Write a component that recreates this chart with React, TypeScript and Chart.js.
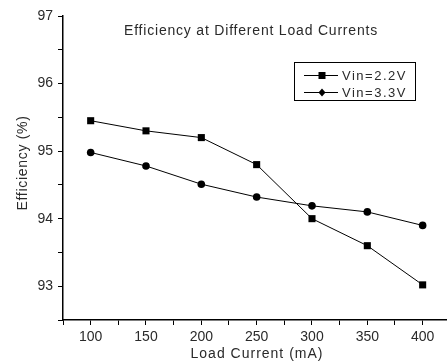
import React, { useEffect, useRef } from "react";
import { Chart, registerables } from "chart.js";

Chart.register(...registerables);

const loadCurrents = [100, 150, 200, 250, 300, 350, 400];
const effVin22 = [95.45, 95.3, 95.2, 94.8, 94.0, 93.6, 93.02];
const effVin33 = [94.98, 94.78, 94.51, 94.32, 94.19, 94.1, 93.9];
const xTickValues = [75, 100, 125, 150, 175, 200, 225, 250, 275, 300, 325, 350, 375, 400];
const yTickValues = [92.5, 93, 93.5, 94, 94.5, 95, 95.5, 96, 96.5, 97];
const seriesNames = ["Vin=2.2V", "Vin=3.3V"];
const chartTitle = "Efficiency at Different Load Currents";
const xTitle = "Load Current (mA)";
const yTitle = "Efficiency (%)";

const FONT = '"Liberation Sans", Arial, sans-serif';
const TEXT = "#2a2a2a";

const overlay = {
  id: "overlay",
  afterDraw(chart: any) {
    const ctx = chart.ctx as CanvasRenderingContext2D;
    ctx.save();
    ctx.fillStyle = TEXT;
    ctx.textBaseline = "middle";
    ctx.textAlign = "center";
    // title
    ctx.font = `14px ${FONT}`;
    (ctx as any).letterSpacing = "0.8px";
    ctx.fillText(chartTitle, 251, 31);
    // x title
    (ctx as any).letterSpacing = "1px";
    ctx.fillText(xTitle, 257, 354);
    // y title
    ctx.save();
    ctx.translate(23, 163);
    ctx.rotate(-Math.PI / 2);
    (ctx as any).letterSpacing = "0.7px";
    ctx.fillText(yTitle, 0, 0);
    ctx.restore();
    // legend
    const bx = 294.5, by = 62.5, bw = 121, bh = 38;
    ctx.strokeStyle = "#000";
    ctx.lineWidth = 1;
    ctx.strokeRect(bx, by, bw, bh);
    const rows = [75, 92];
    ctx.font = `13px ${FONT}`;
    (ctx as any).letterSpacing = "1.5px";
    ctx.textAlign = "left";
    rows.forEach((ry, i) => {
      ctx.beginPath();
      ctx.moveTo(304, ry + 0.5);
      ctx.lineTo(338, ry + 0.5);
      ctx.stroke();
      ctx.fillStyle = "#000";
      if (i === 0) {
        ctx.fillRect(318.5, ry - 3, 7, 7);
      } else {
        ctx.beginPath();
        ctx.moveTo(322, ry - 3.5);
        ctx.lineTo(325.5, ry + 0.5);
        ctx.lineTo(322, ry + 4.5);
        ctx.lineTo(318.5, ry + 0.5);
        ctx.closePath();
        ctx.fill();
      }
      ctx.fillStyle = TEXT;
      ctx.fillText(seriesNames[i], 342, ry + 1);
    });
    ctx.restore();
  },
};

export default function App() {
  const ref = useRef<HTMLCanvasElement | null>(null);
  useEffect(() => {
    document.body.style.margin = "0";
    const canvas = ref.current;
    if (!canvas) return;
    const chart = new Chart(canvas, {
      type: "line",
      data: {
        datasets: [
          {
            label: seriesNames[0],
            data: loadCurrents.map((x, i) => ({ x, y: effVin22[i] })),
            borderColor: "#000",
            backgroundColor: "#000",
            borderWidth: 1,
            pointStyle: "rect",
            pointRadius: 5,
            pointBackgroundColor: "#000",
            pointBorderWidth: 0,
            tension: 0,
          },
          {
            label: seriesNames[1],
            data: loadCurrents.map((x, i) => ({ x, y: effVin33[i] })),
            borderColor: "#000",
            backgroundColor: "#000",
            borderWidth: 1,
            pointStyle: "circle",
            pointRadius: 3.8,
            pointBackgroundColor: "#000",
            pointBorderWidth: 0,
            tension: 0,
          },
        ],
      },
      options: {
        responsive: false,
        animation: false,
        layout: { autoPadding: false, padding: { top: 16, right: 0, left: 0, bottom: 0 } },
        plugins: {
          legend: { display: false },
          title: { display: false },
          tooltip: { enabled: false },
        },
        scales: {
          x: {
            type: "linear",
            min: 75,
            max: 422,
            afterBuildTicks: (s: any) => {
              s.ticks = xTickValues.map((v) => ({ value: v }));
            },
            afterFit: (s: any) => {
              s.height = 44;
              s.paddingLeft = 0;
              s.paddingRight = 0;
            },
            grid: { drawOnChartArea: false, drawTicks: true, tickLength: 5, color: "#000", tickWidth: 1 },
            border: { display: true, color: "#000", width: 1.5 },
            ticks: {
              autoSkip: false,
              maxRotation: 0,
              padding: 4,
              color: TEXT,
              font: { size: 14, family: FONT },
              callback: (v: any) => (Number(v) % 50 === 0 ? String(v) : ""),
            },
          },
          y: {
            type: "linear",
            min: 92.5,
            max: 97,
            afterBuildTicks: (s: any) => {
              s.ticks = yTickValues.map((v) => ({ value: v }));
            },
            afterFit: (s: any) => {
              s.width = 63;
              s.paddingTop = 0;
              s.paddingBottom = 0;
            },
            grid: { drawOnChartArea: false, drawTicks: true, tickLength: 5, color: "#000", tickWidth: 1 },
            border: { display: true, color: "#000", width: 1.5 },
            ticks: {
              autoSkip: false,
              padding: 5,
              color: TEXT,
              font: { size: 14, family: FONT },
              callback: (v: any) => (Number.isInteger(Number(v)) ? String(v) : ""),
            },
          },
        },
      },
      plugins: [overlay],
    } as any);
    return () => chart.destroy();
  }, []);
  return (
    <div style={{ width: 447, height: 364 }}>
      <canvas ref={ref} width={447} height={364} />
    </div>
  );
}
